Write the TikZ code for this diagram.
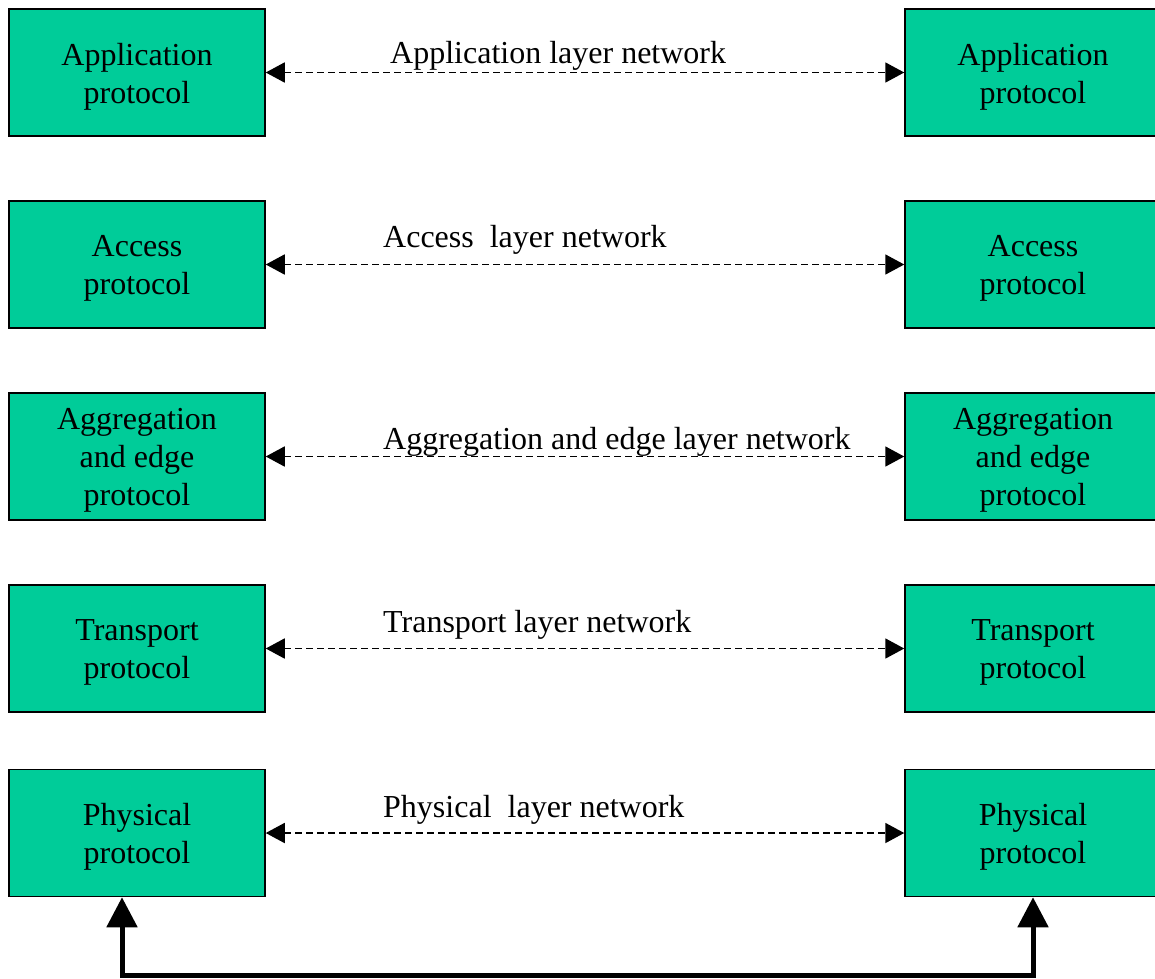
\documentclass[tikz,border=0pt]{standalone}
\usepackage{fontspec}
\setmainfont{Liberation Serif}
\usetikzlibrary{arrows.meta}
\definecolor{boxgreen}{RGB}{0,204,153}
\begin{document}
\begin{tikzpicture}[x=1pt,y=-1pt,
  protobox/.style={draw=black, line width=1.5pt, fill=boxgreen, rectangle,
    minimum width=256pt, minimum height=127pt, inner sep=0pt},
  boxtext/.style={align=center, inner sep=0pt, yshift=-4pt,
    font=\fontsize{32}{38}\selectfont},
  netlabel/.style={anchor=base west, inner sep=0pt, font=\fontsize{32}{38}\selectfont},
  netlink/.style={line width=1.8pt, dash pattern=on 7pt off 4pt,
    {Triangle[length=19pt,width=20pt]}-{Triangle[length=19pt,width=20pt]}},
  physlink/.style={line width=5pt, {Triangle[length=30pt,width=30pt]}-{Triangle[length=30pt,width=30pt]}}
]
\useasboundingbox (0,0) rectangle (1155,978);
\fill[white] (0,0) rectangle (1155,978);

\node[protobox, label={[boxtext]center:{Application\\protocol}}] (la) at (137,72.5) {};
\node[protobox, label={[boxtext]center:{Application\\protocol}}] (ra) at (1033,72.5) {};
\node[protobox, label={[boxtext]center:{Access\\protocol}}] (lb) at (137,264.5) {};
\node[protobox, label={[boxtext]center:{Access\\protocol}}] (rb) at (1033,264.5) {};
\node[protobox, label={[boxtext]center:{Aggregation\\and edge\\protocol}}] (lc) at (137,456.5) {};
\node[protobox, label={[boxtext]center:{Aggregation\\and edge\\protocol}}] (rc) at (1033,456.5) {};
\node[protobox, label={[boxtext]center:{Transport\\protocol}}] (ld) at (137,648.5) {};
\node[protobox, label={[boxtext]center:{Transport\\protocol}}] (rd) at (1033,648.5) {};
\node[protobox, label={[boxtext]center:{Physical\\protocol}}] (le) at (137,833) {};
\node[protobox, label={[boxtext]center:{Physical\\protocol}}] (re) at (1033,833) {};

\draw[netlink] (la.east) -- (ra.west);
\draw[netlink] (lb.east) -- (rb.west);
\draw[netlink] (lc.east) -- (rc.west);
\draw[netlink] (ld.east) -- (rd.west);
\draw[netlink] (le.east) -- (re.west);

\node[netlabel] (ta) at (390,63) {Application layer network};
\node[netlabel] (tb) at (383,247) {Access\ \ layer network};
\node[netlabel] (tc) at (383,449) {Aggregation and edge layer network};
\node[netlabel] (td) at (383,632) {Transport layer network};
\node[netlabel] (te) at (383,817) {Physical\ \ layer network};

\coordinate (bl) at (122,975);
\coordinate (br) at (1033,975);
\draw[physlink, line join=miter] (le.south -| bl) -- (bl) -- (br) -- (re.south);
\end{tikzpicture}
\end{document}
